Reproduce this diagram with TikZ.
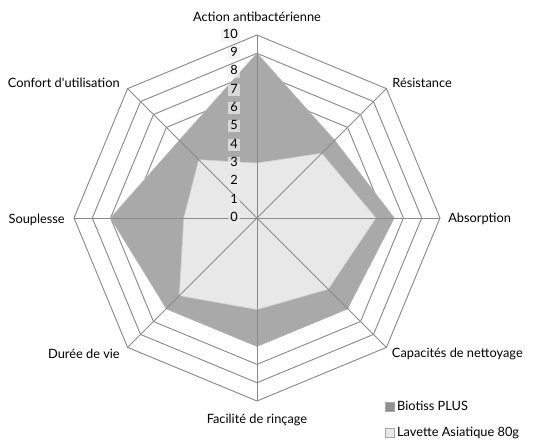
\documentclass[tikz,border=0pt]{standalone}
\usepackage{fontspec}
\setmainfont{Lato}
\usetikzlibrary{positioning,calc}
\definecolor{biotiss}{HTML}{A9A9A9}
\definecolor{lavette}{HTML}{E8E8E8}
\definecolor{grille}{HTML}{8A8A8A}

\begin{document}
\begin{tikzpicture}[x=0.75pt,y=0.75pt]
    \tikzstyle{grid}=[draw=grille, line width=0.7pt, line join=miter]
    \tikzstyle{lab}=[inner sep=0pt, text height=7pt, text depth=2pt, font=\fontsize{9.6}{11}\selectfont]
    \tikzstyle{num}=[lab, anchor=east, inner xsep=1.5pt, fill=gray!15, fill opacity=0.7, text opacity=1]
    \tikzstyle{key}=[draw=gray!70, line width=0.3pt, minimum size=7pt, inner sep=0pt]
    \useasboundingbox (-257,-225) rectangle (276,218);
    \coordinate (o) at (0,0);
    \foreach \r in {1,...,10} {
        \draw[grid] (90:18.3*\r) \foreach \a in {45,0,-45,-90,-135,180,135} { -- (\a:18.3*\r) } -- cycle;
    }
    \foreach \a/\v [count=\i] in {90/9,45/6,0/7.5,-45/7,-90/7,-135/7,180/8,135/6} {
        \coordinate (b\i) at (\a:18.3*\v);
    }
    \foreach \a/\v [count=\i] in {90/3,45/5,0/6.5,-45/5.5,-90/5,-135/6,180/4,135/4.5} {
        \coordinate (l\i) at (\a:18.3*\v);
    }
    \fill[biotiss] (b1) -- (b2) -- (b3) -- (b4) -- (b5) -- (b6) -- (b7) -- (b8) -- cycle;
    \draw[gray!60, line width=0.5pt] (b1) -- (b2) -- (b3) -- (b4) -- (b5) -- (b6) -- (b7) -- (b8) -- cycle;
    \fill[lavette] (l1) -- (l2) -- (l3) -- (l4) -- (l5) -- (l6) -- (l7) -- (l8) -- cycle;
    \draw[gray!35, line width=0.5pt] (l1) -- (l2) -- (l3) -- (l4) -- (l5) -- (l6) -- (l7) -- (l8) -- cycle;
    \foreach \a [count=\i] in {90,45,0,-45,-90,-135,180,135} {
        \coordinate (s\i) at (\a:183);
        \draw[grid] (o) -- (s\i);
    }
    \foreach \n in {0,...,10} {
        \node[num] (n\n) at (-17,18.3*\n) {\n};
    }
    \node[lab, above=8.25pt of s1] (t1) {Action antibactérienne};
    \node[lab, right=4.3pt of s2, yshift=3.5pt, anchor=west] (t2) {Résistance};
    \node[lab, right=6pt of s3, yshift=-0.7pt, anchor=west] (t3) {Absorption};
    \node[lab, right=4pt of s4, yshift=-5pt, anchor=west] (t4) {Capacités de nettoyage};
    \node[lab, below=9.75pt of s5] (t5) {Facilité de rinçage};
    \node[lab, left=5.7pt of s6, yshift=-5.7pt, anchor=east] (t6) {Durée de vie};
    \node[lab, left=6.75pt of s7, yshift=-1.5pt, anchor=east] (t7) {Souplesse};
    \node[lab, left=5.7pt of s8, yshift=3.5pt, anchor=east] (t8) {Confort d\textquotesingle utilisation};
    \node[key, fill=biotiss!85!black] (k1) at (133,-189) {};
    \node[lab, right=1.5pt of k1] (e1) {Biotiss PLUS};
    \node[key, fill=lavette] (k2) at (133,-215) {};
    \node[lab, right=1.5pt of k2] (e2) {Lavette Asiatique 80g};
\end{tikzpicture}
\end{document}
